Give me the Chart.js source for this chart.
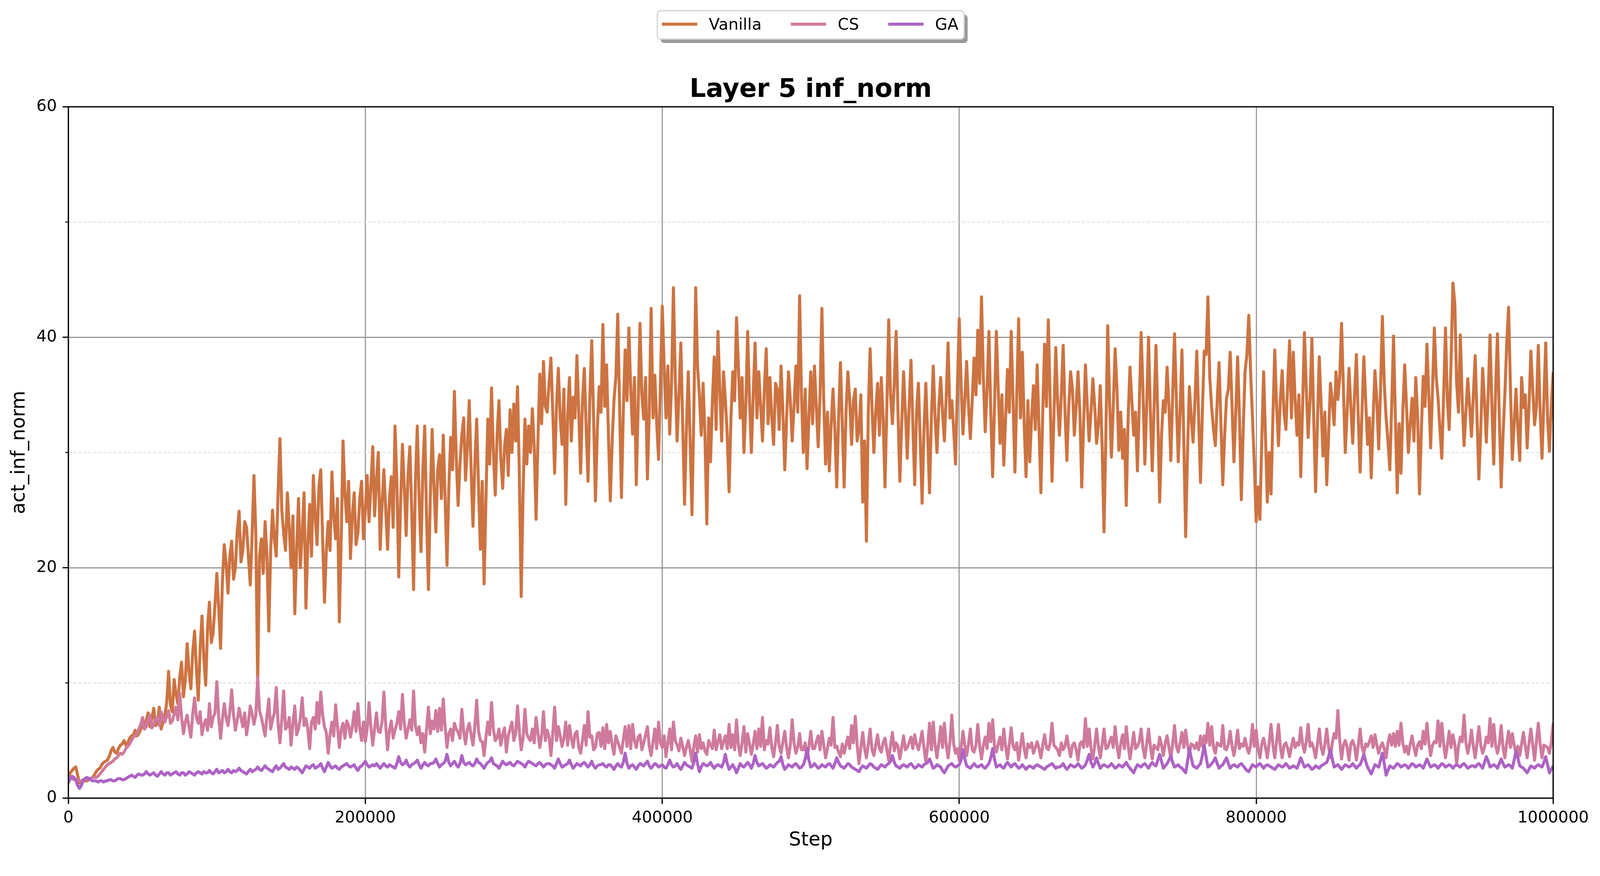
<!DOCTYPE html>
<html>
<head>
<meta charset="utf-8">
<script src="https://cdn.jsdelivr.net/npm/chart.js@4.4.1/dist/chart.umd.min.js"></script>
<style>
html,body{margin:0;padding:0;background:#fff;overflow:hidden;}
canvas{display:block;}
</style>
</head>
<body>
<canvas id="c"></canvas>
<script>
// ---- data ----
const seriesLabels = ['Vanilla', 'CS', 'GA'];
const stepInterval = 1250;   // one logged value every 1250 steps, 0 .. 1,000,000
const xTickValues = [0, 200000, 400000, 600000, 800000, 1000000];
const yTickValues = [0, 20, 40, 60];

const vanillaValues = [
1.8,2.2,2.4,2.6,2.7,2.0,1.3,1.4,1.6,1.5,1.5,1.6,1.7,1.8,2.0,2.3,2.5,2.6,2.9,3.1,
3.2,3.3,3.6,4.1,4.4,4.0,3.9,4.3,4.6,4.7,5.0,4.6,4.8,5.2,5.4,5.5,5.9,5.4,5.6,6.0,
6.3,6.0,6.8,7.4,6.2,6.9,7.8,6.3,6.5,7.9,6.0,6.6,7.2,8.3,11.0,8.1,7.5,10.3,9.0,8.2,
10.5,11.8,8.8,10.2,13.4,11.0,9.5,12.6,14.5,11.2,8.5,13.0,15.8,12.1,9.8,14.8,17.0,13.5,14.3,16.8,
19.5,16.5,13.0,18.8,22.0,20.4,17.8,21.0,22.3,19.0,20.0,23.2,24.9,20.5,21.5,24.0,23.5,21.0,18.5,22.8,
28.0,23.0,10.0,21.0,22.5,19.5,24.0,21.0,14.5,21.5,25.0,22.5,21.0,26.5,31.2,25.0,23.0,21.5,26.5,23.5,
20.0,24.5,16.0,21.5,26.0,20.0,23.0,26.5,16.5,22.0,25.5,21.0,28.0,24.5,22.0,27.0,28.5,22.5,17.0,21.5,
24.0,21.5,28.3,24.5,22.5,26.0,15.3,22.5,31.0,26.5,24.0,27.5,20.8,24.5,26.5,22.0,23.0,26.0,27.5,22.5,
25.0,28.0,
24.0,27.0,30.5,24.5,27.5,30.0,21.6,25.5,28.5,25.0,21.6,26.0,27.9,23.5,32.3,27.5,19.2,25.5,30.7,27.0,
22.8,28.0,30.5,25.0,18.1,27.5,32.3,26.0,21.4,28.5,32.3,24.5,18.1,26.0,32.0,27.0,23.1,28.5,29.8,26.0,
31.5,26.0,20.2,27.0,31.3,28.5,35.3,29.5,25.4,29.0,31.5,33.0,27.6,30.5,34.5,28.5,23.6,29.0,32.9,27.0,
21.6,27.5,18.6,26.0,32.9,29.0,35.6,30.0,26.3,31.5,34.5,29.5,26.9,30.5,32.0,28.0,33.7,30.0,34.2,31.0,
35.7,28.0,17.5,26.5,32.9,29.0,32.3,30.0,33.8,30.5,24.2,31.0,36.8,32.5,37.9,34.0,33.5,36.0,38.2,33.5,
28.2,34.0,37.3,33.0,30.7,35.5,25.5,33.0,36.5,31.0,34.8,33.0,38.4,33.5,28.2,34.5,37.3,32.0,27.5,35.0,
39.7,33.0,25.8,32.0,35.7,33.5,41.1,34.0,37.6,31.5,25.8,31.0,34.6,36.5,42.0,34.0,26.1,33.5,38.9,34.5,
40.8,35.5,31.6,36.5,27.2,34.0,41.2,35.0,32.9,36.5,27.7,33.5,42.5,33.0,36.7,32.5,29.4,36.0,42.7,37.5,
33.0,37.5,31.6,36.0,44.3,36.5,31.0,35.0,39.5,32.5,25.5,32.0,37.0,31.0,24.6,33.5,44.3,37.5,35.0,31.5,
36.0,31.5,23.8,33.0,29.2,34.5,38.3,32.0,40.5,35.5,31.0,37.0,34.5,31.5,26.6,33.0,37.0,34.5,41.7,37.5,
33.0,36.5,30.0,34.0,40.5,34.5,30.0,35.0,39.5,33.0,37.0,34.0,31.0,35.5,39.0,32.5,36.5,33.0,30.7,36.0,
35.5,32.0,37.5,33.5,28.5,33.0,37.0,34.5,31.0,34.0,37.5,33.5,43.6,35.0,30.0,35.5,28.6,33.0,37.0,32.5,
37.5,34.0,30.5,35.0,42.5,34.5,29.0,33.5,28.4,32.5,35.5,32.0,27.0,33.0,37.8,32.5,27.0,33.5,37.0,34.5,
30.7,34.5,35.5,31.0,32.0,35.0,25.7,31.0,22.3,33.5,39.0,34.0,30.0,33.5,36.0,31.5,36.5,33.0,27.0,34.0,
41.5,35.0,32.5,36.0,40.5,33.5,27.5,32.5,37.0,33.5,29.5,34.0,38.0,32.5,27.2,33.5,36.0,31.0,25.6,32.0,
36.0,31.5,26.5,33.0,37.5,33.0,30.0,34.0,36.5,33.5,31.0,35.0,39.5,33.0,34.5,32.0,29.0,35.5,41.6,36.0,
31.6,34.5,37.9,34.0,31.2,34.5,38.2,35.0,40.6,36.0,43.5,36.5,31.8,35.5,40.5,33.5,27.9,34.0,40.5,35.5,
30.8,35.0,28.9,33.0,37.2,33.5,40.5,34.5,28.3,35.0,41.6,33.0,38.7,32.5,27.9,34.5,29.2,33.0,35.8,32.0,
37.6,32.0,26.5,33.5,39.4,34.0,41.5,34.5,27.5,33.0,39.1,34.5,31.5,35.0,39.3,33.5,29.3,34.0,37.0,35.5,
31.5,34.0,37.0,33.5,27.0,32.5,37.6,34.0,31.0,33.5,36.4,34.0,30.8,32.5,35.8,30.5,23.1,31.5,41.0,34.5,
29.6,34.0,39.0,35.5,30.2,33.5,29.5,32.0,25.4,33.0,37.4,34.5,31.5,33.5,28.4,34.0,40.4,35.5,29.0,34.0,
40.0,33.5,28.4,34.0,39.3,33.0,25.7,31.5,34.5,33.5,37.4,34.0,29.3,35.0,40.3,34.5,29.2,33.5,38.9,31.0,
22.7,30.0,35.7,33.0,30.9,34.5,38.8,33.0,27.4,33.5,38.8,38.5,43.5,36.5,33.9,32.0,30.6,34.5,37.8,32.5,
27.2,31.5,34.7,35.5,38.7,34.0,29.2,33.5,38.3,33.0,25.9,32.0,37.0,38.5,41.9,37.0,33.0,29.0,24.0,27.0,
24.2,31.0,37.0,31.5,25.7,30.0,26.4,33.0,38.9,34.0,30.6,34.5,37.1,33.5,32.0,36.0,39.7,33.0,38.7,34.5,
31.5,35.0,27.9,34.0,40.4,35.5,31.3,34.5,39.9,33.0,26.6,32.5,38.3,34.0,29.7,33.5,27.2,31.5,36.0,34.5,
32.4,37.0,34.6,36.5,41.2,35.5,30.0,33.5,37.3,34.0,30.8,35.0,38.5,33.0,28.3,33.5,38.3,34.5,30.7,33.0,
27.8,33.0,37.1,34.5,30.3,35.5,41.8,36.0,33.0,31.0,28.5,34.0,40.1,33.0,26.5,32.5,28.2,33.5,37.6,34.0,
30.0,32.5,34.7,31.0,36.5,33.0,26.4,32.0,36.6,34.0,39.4,35.0,30.4,35.5,40.8,36.5,34.7,32.0,29.5,35.0,
40.8,34.5,32.0,38.0,44.7,43.0,36.0,33.5,40.2,34.5,30.6,33.5,36.4,34.0,31.4,35.0,38.4,33.0,27.7,32.0,
37.3,34.5,30.9,35.0,40.2,34.0,29.0,35.5,40.3,33.0,27.0,31.5,35.1,39.5,42.6,35.5,29.4,32.5,35.5,32.0,
29.3,36.5,33.9,35.0,30.4,34.0,38.8,35.5,32.4,34.0,39.3,33.5,29.5,34.5,39.5,33.0,30.1,34.0,37.0
];

const csValues = [
1.8,1.8,1.7,1.6,1.6,1.6,1.5,1.5,1.6,1.6,1.7,1.7,1.7,1.8,1.8,1.8,1.9,2.1,2.3,2.5,
2.7,2.9,3.0,3.1,3.2,3.4,3.5,3.7,3.9,3.8,4.0,4.3,4.5,4.7,5.0,5.3,5.4,5.6,6.0,6.4,
7.0,6.0,6.2,6.8,7.2,6.1,6.4,6.9,7.0,6.3,7.5,6.9,6.6,7.1,7.6,6.5,6.7,7.3,7.9,6.8,
9.1,7.0,5.6,6.6,7.2,6.2,5.3,7.3,8.7,7.0,6.5,7.5,5.5,6.4,6.8,5.9,8.2,6.2,7.0,7.4,
10.1,7.0,5.2,6.9,8.2,7.0,6.3,7.5,9.4,7.2,5.9,6.8,7.8,7.0,6.2,7.4,5.5,6.6,8.0,7.3,
6.4,7.2,10.5,7.6,7.0,6.2,5.4,7.1,8.6,6.0,6.8,7.4,9.6,6.5,4.8,6.8,9.3,6.0,6.2,7.0,
4.6,6.5,8.0,5.5,6.0,7.0,8.7,6.3,6.9,6.0,4.3,6.6,7.0,6.0,8.3,6.5,9.2,7.2,6.2,5.7,
3.9,5.5,6.6,5.4,8.1,6.2,4.4,6.0,6.5,5.2,6.7,6.3,5.3,6.2,7.5,5.8,8.2,6.1,5.0,6.6,
4.9,6.0,8.3,6.2,4.6,6.0,7.4,5.8,5.7,6.6,9.2,6.3,4.2,5.9,6.7,5.2,5.9,6.5,7.5,6.0,
9.0,6.5,5.2,6.0,6.8,5.9,9.3,6.3,5.5,6.2,4.8,5.6,4.0,6.0,7.9,5.6,6.7,6.0,7.6,5.8,
7.8,5.9,8.6,6.2,4.4,5.6,6.0,5.0,6.5,6.0,5.7,5.2,7.7,5.8,4.7,6.0,6.5,5.5,4.6,6.2,
8.5,5.8,5.0,4.9,3.7,5.3,6.6,5.5,8.3,6.0,5.0,5.2,6.0,4.6,5.5,6.1,4.0,5.4,6.0,6.6,
5.0,5.6,8.0,5.8,4.2,5.2,7.7,5.6,5.2,5.0,6.0,4.8,7.0,5.7,4.4,5.4,7.5,5.0,5.9,5.3,
3.7,5.6,7.9,5.0,6.2,5.4,4.5,5.2,
6.6,4.6,6.3,5.2,4.4,5.6,5.8,4.4,3.9,5.0,6.3,4.6,7.5,5.3,5.4,4.2,4.4,5.6,5.7,4.5,
6.1,4.3,6.4,4.8,5.8,4.6,3.8,5.4,4.9,4.4,3.9,5.1,6.2,4.5,6.3,4.3,6.4,5.0,4.4,5.3,
5.5,4.2,4.8,5.5,6.2,4.5,3.7,4.9,6.0,4.3,6.6,4.8,4.4,5.4,3.6,4.8,6.0,4.2,6.6,5.0,
4.6,4.1,5.2,4.5,3.7,4.4,5.0,4.2,3.2,4.5,5.4,4.0,5.5,4.3,4.8,4.1,3.8,5.0,4.6,4.3,
5.9,4.2,4.9,5.5,4.3,4.9,5.4,4.3,6.4,4.4,5.5,4.2,6.8,4.6,3.7,4.8,6.2,4.0,5.6,4.7,
3.8,4.7,5.8,4.3,6.0,4.5,7.0,4.2,5.0,4.7,6.1,4.4,3.6,4.8,6.3,4.5,3.9,4.9,5.8,4.4,
3.5,4.6,6.8,4.8,3.9,4.4,5.6,4.2,4.2,4.8,3.5,4.5,5.8,4.3,4.3,4.9,5.4,4.2,5.8,4.6,
3.5,4.3,5.2,4.6,7.0,4.4,4.5,4.0,3.6,4.7,3.9,4.6,5.3,4.3,6.3,4.8,7.1,4.6,3.0,4.4,
5.7,4.3,3.5,4.7,6.0,4.2,3.7,4.6,5.5,4.3,4.0,4.8,5.2,4.2,3.3,4.6,5.7,4.1,4.8,4.5,
3.4,4.4,5.4,4.2,4.4,4.8,5.3,4.3,5.5,4.7,4.2,4.9,5.8,4.4,3.2,4.5,6.5,4.2,6.6,4.6,
3.5,4.8,6.2,4.4,6.5,4.6,3.5,4.9,7.2,4.7,3.9,4.3,3.3,4.4,5.8,4.6,3.7,4.7,6.0,4.2,
4.0,4.6,6.4,4.5,3.4,4.6,5.3,4.3,6.5,4.9,6.8,4.5,4.0,4.7,5.3,4.2,6.0,4.5,3.4,4.7,
6.1,4.5,4.2,4.8,3.3,4.5,5.6,4.3,3.5,4.7,4.4,4.8,3.9,4.4,4.9,4.3,3.5,4.6,5.5,4.4,
4.2,4.8,6.5,4.6,4.4,4.2,
3.7,4.8,4.2,4.5,5.4,4.4,3.6,4.6,4.8,4.2,3.3,4.7,4.9,4.4,6.9,4.5,6.0,4.3,3.4,4.6,
6.0,4.5,3.5,4.7,6.0,4.3,4.4,4.9,5.3,4.4,6.2,4.6,3.5,4.7,5.5,4.3,6.2,4.6,3.4,4.5,
5.7,4.3,4.5,4.9,6.0,4.4,3.5,4.7,6.0,4.5,3.4,4.6,4.4,4.2,5.3,4.6,3.7,4.8,5.4,4.4,
3.5,4.7,6.3,4.5,4.0,4.8,5.7,4.4,5.9,4.6,3.9,4.7,4.6,4.3,4.8,4.2,5.4,4.5,5.4,4.8,
6.5,4.6,6.2,4.4,3.9,4.8,4.6,4.5,6.3,4.3,4.2,4.7,5.8,4.5,3.7,4.6,5.9,4.3,4.7,4.5,
5.2,4.4,3.9,4.6,6.4,4.5,5.9,4.3,3.5,4.7,5.2,4.4,3.5,4.8,6.4,4.6,3.5,4.9,6.4,4.5,
3.5,4.6,4.8,4.3,3.6,4.5,5.2,4.4,4.8,4.6,6.1,4.7,4.0,4.9,6.4,4.5,4.8,4.3,3.5,4.7,
6.0,4.4,3.8,4.7,6.0,4.5,3.5,4.8,5.6,5.2,7.6,5.0,3.4,4.6,5.0,4.4,3.3,4.7,5.0,4.5,
3.3,4.6,6.0,4.4,3.9,4.7,4.5,4.9,5.4,4.4,5.5,4.6,3.9,4.5,4.8,4.3,3.5,4.8,5.5,4.6,
5.6,4.5,5.8,4.6,6.5,4.8,4.0,4.5,3.8,4.7,5.4,4.4,3.7,4.6,4.9,4.3,5.8,4.7,6.5,4.8,
3.7,4.6,4.9,4.8,6.7,4.5,6.5,4.7,3.5,4.6,5.8,4.4,5.5,4.7,3.0,4.5,5.3,4.9,7.2,4.8,
3.9,4.7,5.9,4.5,3.5,4.8,6.2,4.6,3.9,4.4,5.3,4.8,6.9,4.5,6.4,4.6,3.9,4.7,6.3,4.4,
3.5,4.8,5.8,4.4,5.6,4.6,3.9,4.5,3.7,4.7,5.7,4.5,3.5,4.8,6.0,4.6,3.3,4.9,6.5,4.7,
3.5,4.6,4.5,4.4,3.9,4.8,6.5
];

const gaValues = [
1.3,1.7,1.9,1.8,1.6,1.1,0.85,1.1,1.5,1.7,1.8,1.7,1.6,1.5,1.5,1.5,1.4,1.5,1.5,1.4,
1.5,1.5,1.6,1.6,1.5,1.5,1.6,1.7,1.7,1.6,1.6,1.7,1.8,1.9,2.0,1.9,1.8,2.0,2.1,2.0,
2.0,2.1,2.3,2.1,2.0,2.1,2.2,2.0,1.9,2.1,2.3,2.1,2.0,2.2,2.2,2.0,2.1,2.2,2.3,2.1,
2.0,2.2,2.2,2.0,2.1,2.3,2.2,2.1,2.0,2.2,2.3,2.2,2.1,2.3,2.2,2.2,2.4,2.2,2.1,2.3,
2.5,2.2,2.3,2.4,2.2,2.3,2.5,2.3,2.2,2.4,2.3,2.4,2.6,2.4,2.3,2.2,2.1,2.3,2.5,2.3,
2.4,2.5,2.7,2.5,2.4,2.6,2.8,2.6,2.5,2.4,2.3,2.6,2.8,2.5,2.6,2.8,3.0,2.7,2.6,2.5,
2.7,2.6,2.5,2.7,2.6,2.4,2.2,2.5,2.8,2.7,2.6,2.8,2.9,2.6,2.7,2.8,3.0,2.6,2.3,2.7,
3.1,2.8,2.6,2.7,2.8,2.6,2.5,2.7,2.8,2.9,3.0,2.8,2.7,2.8,2.9,2.6,2.4,2.7,2.8,3.0,
3.2,2.9,2.7,2.8,2.9,2.8,3.0,2.8,2.6,2.8,3.0,2.8,2.7,2.9,2.8,2.7,2.6,3.0,3.6,3.1,
2.9,3.0,3.3,2.9,2.7,2.9,3.0,3.1,3.3,2.9,2.6,2.9,3.1,2.9,2.8,3.0,3.0,3.1,3.4,3.0,
2.7,2.9,3.0,3.2,3.8,3.1,2.8,3.0,3.2,2.9,2.7,3.0,3.7,3.1,2.9,3.0,3.1,2.9,2.8,3.0,
3.4,3.1,3.0,2.8,2.6,2.9,3.1,3.2,3.5,3.0,2.9,2.8,2.6,2.9,3.2,3.0,2.9,3.0,3.1,2.9,
2.8,3.0,3.2,3.1,3.0,2.9,2.7,3.0,3.2,3.1,3.0,2.9,2.8,3.0,3.1,2.9,2.7,2.9,3.0,3.0,
2.9,2.8,2.6,3.0,3.4,3.0,2.7,2.8,
2.9,3.0,3.3,2.9,2.6,2.8,3.0,2.9,2.8,3.0,3.1,2.9,2.7,2.9,3.2,2.8,2.6,2.8,2.9,2.9,
3.0,2.8,2.7,2.9,2.9,2.7,2.5,2.8,3.0,2.8,2.7,3.1,3.9,3.0,2.6,2.8,2.9,2.7,2.5,2.8,
3.0,2.9,2.8,3.0,3.2,2.8,2.6,2.8,3.0,2.9,2.7,2.8,2.9,2.7,2.6,2.9,3.3,2.9,2.7,2.8,
3.0,2.7,2.5,2.8,3.1,2.9,2.8,2.7,2.6,3.1,3.9,3.0,2.3,2.7,3.0,2.9,2.8,2.9,3.1,2.8,
2.6,2.8,2.9,2.8,2.7,3.1,3.8,3.0,2.5,2.7,2.9,2.6,2.2,2.6,3.0,2.8,2.7,2.9,3.1,2.9,
2.6,3.0,3.7,3.1,2.8,2.9,3.0,2.8,2.6,2.7,2.9,2.8,2.7,2.9,3.1,3.2,3.6,2.9,2.5,2.7,
2.9,2.8,2.7,2.9,3.0,2.8,2.6,2.7,2.9,3.4,4.3,3.3,2.7,2.8,3.0,2.8,2.6,2.7,2.9,2.8,
2.7,2.9,3.0,2.8,2.6,3.0,3.5,3.1,2.8,2.7,2.6,2.8,3.0,2.9,2.7,2.6,2.5,2.4,2.3,2.6,
2.8,2.7,2.6,2.8,3.0,2.9,2.7,2.6,2.5,2.7,2.9,2.8,2.7,2.9,3.0,3.2,3.7,3.1,2.8,2.7,
2.6,2.8,2.9,2.8,2.7,2.9,3.0,2.8,2.6,2.7,2.9,2.8,2.7,2.9,3.0,3.1,3.4,3.0,2.6,2.7,
2.9,2.8,2.7,2.4,2.2,2.5,2.8,2.9,3.0,2.8,2.7,2.8,2.9,3.3,4.2,3.4,2.8,2.7,2.6,2.8,
3.0,2.8,2.7,2.8,2.9,2.7,2.6,2.8,3.0,3.5,4.3,3.4,2.7,2.8,2.9,2.7,2.6,2.9,3.1,2.9,
2.7,2.9,3.0,2.8,2.6,2.7,2.9,2.7,2.5,2.7,2.8,2.7,2.6,2.8,2.9,2.8,2.7,2.6,2.5,2.7,
2.8,2.9,3.0,2.8,2.6,2.7,
2.7,2.8,3.0,2.7,2.5,2.7,2.9,2.8,2.7,2.8,3.0,2.8,2.6,2.7,2.9,3.3,3.8,3.1,2.7,3.0,
3.5,3.0,2.6,2.8,2.9,2.8,2.7,2.8,3.0,2.8,2.6,2.7,2.9,2.8,2.7,2.9,3.1,2.8,2.6,2.4,
2.2,2.6,2.9,2.8,2.7,2.9,3.0,2.8,2.6,2.9,3.1,2.9,2.8,3.3,3.8,3.2,2.6,2.8,3.0,3.3,
3.7,3.1,2.7,2.8,2.9,2.7,2.6,2.4,2.2,3.2,4.3,3.5,2.8,2.7,2.6,2.8,3.0,3.7,4.6,3.6,
2.7,2.8,3.0,3.2,3.5,3.0,2.6,2.8,2.9,3.2,3.5,3.0,2.6,2.8,2.9,2.8,2.7,2.9,3.0,2.8,
2.6,2.4,2.3,2.6,2.9,2.8,2.7,2.9,3.0,2.8,2.6,2.8,2.9,2.8,2.7,2.6,2.5,2.7,2.9,2.8,
2.7,2.8,3.0,2.8,2.6,2.7,2.8,2.7,2.6,3.0,3.5,3.1,2.7,2.8,2.9,2.7,2.5,2.6,2.8,2.7,
2.6,2.8,2.9,3.0,3.1,3.6,4.2,3.4,2.7,2.8,2.9,2.7,2.5,2.7,2.9,2.8,2.7,2.8,3.0,2.8,
2.6,2.8,2.9,3.3,3.8,3.2,2.7,2.4,2.1,2.5,2.9,2.8,2.7,3.3,3.9,3.0,2.0,2.4,2.8,2.7,
2.6,2.8,3.0,2.9,2.7,2.8,2.9,2.8,2.6,2.8,3.0,2.9,2.7,2.8,2.9,2.8,2.6,3.0,3.4,3.0,
2.7,2.8,2.9,2.8,2.6,2.8,3.0,2.9,2.7,2.8,2.9,2.8,2.6,2.8,2.9,2.8,2.7,2.9,3.0,2.8,
2.6,2.7,2.8,2.8,2.7,2.9,3.0,2.8,2.6,3.1,3.6,3.2,2.7,2.8,2.9,2.8,2.6,3.0,3.4,3.0,
2.7,2.8,2.9,2.8,2.6,3.3,4.1,3.5,2.8,2.7,2.6,2.4,2.2,2.5,2.8,2.7,2.6,2.8,2.9,2.8,
2.7,3.1,3.6,2.9,2.2,2.5,2.8
];

const seriesValues = [vanillaValues, csValues, gaValues];
const seriesColors = ['#CD7341', '#CF7A9C', '#AD63C5'];

// ---- sizing: lay out in reference pixels (4166 x 2242), scaled uniformly to the real viewport ----
const REF_W = 4166, REF_H = 2242;
const W = window.innerWidth || REF_W;
const s = W / REF_W;
const H = Math.round(REF_H * s);
const sx = s, sy = s;
const canvas = document.getElementById('c');
canvas.width = W; canvas.height = H;
canvas.style.width = W + 'px'; canvas.style.height = H + 'px';

const FONT = '"DejaVu Sans", "Liberation Sans", sans-serif';
const LINE_W = 7.8;

function toPoints(values) {
  return values.map((v, i) => ({ x: i * stepInterval, y: v }));
}

const frameAndTicks = {
  id: 'frameAndTicks',
  beforeDatasetsDraw(chart) {
    const { ctx, chartArea: a, scales: { y } } = chart;
    ctx.save();
    ctx.strokeStyle = '#d9d9d9';
    ctx.lineWidth = 2.2 * sx;
    ctx.setLineDash([8 * sx, 5 * sx]);
    y.ticks.forEach(t => {
      if (yTickValues.indexOf(t.value) === -1) {
        const py = y.getPixelForValue(t.value);
        ctx.beginPath(); ctx.moveTo(a.left, py); ctx.lineTo(a.right, py); ctx.stroke();
      }
    });
    ctx.restore();
  },
  afterDatasetsDraw(chart) {
    const { ctx, chartArea: a, scales: { y } } = chart;
    ctx.save();
    ctx.strokeStyle = '#000';
    ctx.lineWidth = 3.3 * sx;
    ctx.setLineDash([]);
    ctx.strokeRect(a.left, a.top, a.right - a.left, a.bottom - a.top);
    y.ticks.forEach(t => {
      const major = yTickValues.indexOf(t.value) !== -1;
      const py = y.getPixelForValue(t.value);
      ctx.lineWidth = (major ? 3.3 : 2.5) * sx;
      ctx.beginPath(); ctx.moveTo(a.left - (major ? 15 : 8) * sx, py); ctx.lineTo(a.left, py); ctx.stroke();
    });
    ctx.restore();
  }
};

const boxLegend = {
  id: 'boxLegend',
  afterDraw(chart) {
    const { ctx, chartArea: a } = chart;
    const fs = 41.7 * sx;
    ctx.save();
    ctx.font = fs + 'px ' + FONT;
    const items = chart.data.datasets.map(d => ({ label: d.label, color: d.borderColor, w: ctx.measureText(d.label).width }));
    const padL = 12 * sx, padR = 15 * sx, lineLen = 92 * sx, gap = 30 * sx, colSp = 76 * sx;
    let total = padL + padR + colSp * (items.length - 1);
    items.forEach(it => { total += lineLen + gap + it.w; });
    const left = (a.left + a.right) / 2 - total / 2;
    const top = 28 * sy, h = 74 * sy, r = 9 * sx;
    ctx.fillStyle = '#9a9a9a';
    ctx.beginPath(); ctx.roundRect(left + 9 * sx, top + 10 * sy, total, h, r); ctx.fill();
    ctx.fillStyle = '#ffffff';
    ctx.strokeStyle = '#d0d0d0';
    ctx.lineWidth = 3 * sx;
    ctx.beginPath(); ctx.roundRect(left, top, total, h, r); ctx.fill(); ctx.stroke();
    let x = left + padL;
    const cy = 63 * sy;
    items.forEach(it => {
      ctx.strokeStyle = it.color;
      ctx.lineWidth = LINE_W * sx;
      ctx.beginPath(); ctx.moveTo(x, cy); ctx.lineTo(x + lineLen, cy); ctx.stroke();
      x += lineLen + gap;
      ctx.fillStyle = '#000';
      ctx.textBaseline = 'alphabetic';
      ctx.textAlign = 'left';
      ctx.fillText(it.label, x, 77 * sy);
      x += it.w + colSp;
    });
    ctx.restore();
  }
};

const datasets = seriesValues.map((vals, k) => ({
  label: seriesLabels[k],
  data: toPoints(vals),
  borderColor: seriesColors[k],
  backgroundColor: seriesColors[k],
  borderWidth: LINE_W * sx,
  pointRadius: 0,
  pointHoverRadius: 0,
  tension: 0,
  fill: false,
  borderJoinStyle: 'round',
  borderCapStyle: 'butt',
  order: 3 - k
}));

new Chart(canvas, {
  type: 'line',
  data: { datasets },
  options: {
    responsive: false,
    animation: false,
    parsing: false,
    normalized: true,
    events: [],
    layout: { padding: { left: 0, right: 122 * sx, top: 0, bottom: 0 } },
    plugins: {
      legend: { display: false },
      tooltip: { enabled: false },
      title: {
        display: true,
        fullSize: false,
        text: 'Layer 5 inf_norm',
        color: '#000',
        font: { family: FONT, size: 67 * sx, weight: 'bold', lineHeight: 1.2 },
        padding: { top: 195 * sy, bottom: (278 - 195) * sy - 67 * 1.2 * sx }
      }
    },
    scales: {
      x: {
        type: 'linear',
        min: 0,
        max: 1000000,
        afterFit: sc => { sc.height = 164 * sy; },
        afterBuildTicks: sc => { sc.ticks = xTickValues.map(v => ({ value: v })); },
        ticks: {
          callback: v => String(v),
          font: { family: FONT, size: 41.7 * sx },
          color: '#000',
          padding: 12 * sy,
          maxRotation: 0,
          autoSkip: false
        },
        grid: {
          color: '#8e8e8e',
          lineWidth: 2.7 * sx,
          drawTicks: true,
          tickLength: 15 * sy,
          tickColor: '#000',
          tickWidth: 3.3 * sx
        },
        border: { display: false },
        title: {
          display: true,
          text: 'Step',
          color: '#000',
          font: { family: FONT, size: 50 * sx },
          padding: { top: 0, bottom: 24 * sy }
        }
      },
      y: {
        type: 'linear',
        min: 0,
        max: 60,
        afterFit: sc => { sc.width = 178 * sx; },
        ticks: {
          stepSize: 10,
          callback: v => (yTickValues.indexOf(v) !== -1 ? String(v) : ''),
          font: { family: FONT, size: 41.7 * sx },
          color: '#000',
          padding: 30 * sx
        },
        grid: {
          color: ctx => (ctx.tick && yTickValues.indexOf(ctx.tick.value) !== -1 ? '#8e8e8e' : 'rgba(0,0,0,0)'),
          lineWidth: 2.7 * sy,
          drawTicks: false
        },
        border: { display: false },
        title: {
          display: true,
          text: 'act_inf_norm',
          color: '#000',
          font: { family: FONT, size: 50 * sx },
          padding: { top: 21 * sx, bottom: 0 }
        }
      }
    }
  },
  plugins: [frameAndTicks, boxLegend]
});
</script>
</body>
</html>
